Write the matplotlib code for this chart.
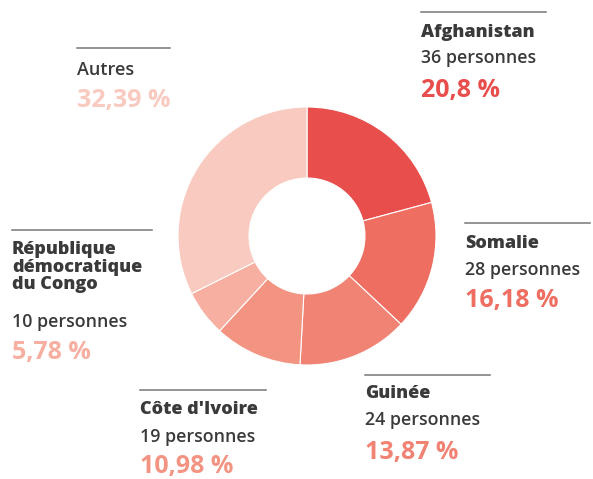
import matplotlib
matplotlib.use("Agg")
import matplotlib.pyplot as plt

# data
countries = ["Afghanistan", "Somalie", "Guinée", "Côte d'Ivoire",
             "République\ndémocratique\ndu Congo", "Autres"]
persons = [36, 28, 24, 19, 10, 56]
pct_labels = ["20,8 %", "16,18 %", "13,87 %", "10,98 %", "5,78 %", "32,39 %"]
colors = ["#E84E4B", "#EE6E62", "#F08373", "#F39483", "#F6AFA0", "#F8CAC0"]

W, H = 593, 479
DARK = "#3a3a3a"
FONT = ["Open Sans", "DejaVu Sans"]

fig = plt.figure(figsize=(W / 100, H / 100), dpi=100)
ax = fig.add_axes([0, 0, 1, 1])


def py(y):
    # pixel row (from top) to data y
    return H - y


ax.pie(persons, colors=colors, startangle=90, counterclock=False,
       center=(307, py(236)), radius=129,
       wedgeprops=dict(width=129 - 58, edgecolor="white", linewidth=0.8))
ax.set_xlim(0, W)
ax.set_ylim(0, H)
ax.set_aspect("equal")
ax.axis("off")

# label blocks: (x, line_y, line_x_end, title_y, persons_y, pct_y)
blocks = [
    (421, 12, 546, 32, 58, 90),
    (465, 223, 590, 243, 270, 300),
    (365, 375, 490, 394, 420, 452),
    (140, 390, 266, 410, 437, 467),
    (12, 230, 152, 267, 322, 353),
    (77, 48, 170, 70, None, 100),
]

for i, (x, ly, lx2, ty, ppy, pcy) in enumerate(blocks):
    ax.plot([x, lx2], [py(ly), py(ly)], color="#777777", lw=1.1)
    if countries[i] == "Autres":
        ax.text(x, py(ty), countries[i], fontsize=13, fontweight="semibold",
                color=DARK, va="center", ha="left", family=FONT)
    else:
        ax.text(x, py(ty), countries[i], fontsize=13, fontweight="heavy",
                color=DARK, va="center", ha="left", family=FONT,
                linespacing=1.05)
    if ppy is not None:
        ax.text(x, py(ppy), f"{persons[i]} personnes", fontsize=12.8,
                fontweight="semibold", color=DARK, va="center", ha="left",
                family=FONT)
    ax.text(x, py(pcy), pct_labels[i], fontsize=18, fontweight="bold",
            color=colors[i], va="center", ha="left", family=FONT)

fig.savefig("out.png", dpi=100)
